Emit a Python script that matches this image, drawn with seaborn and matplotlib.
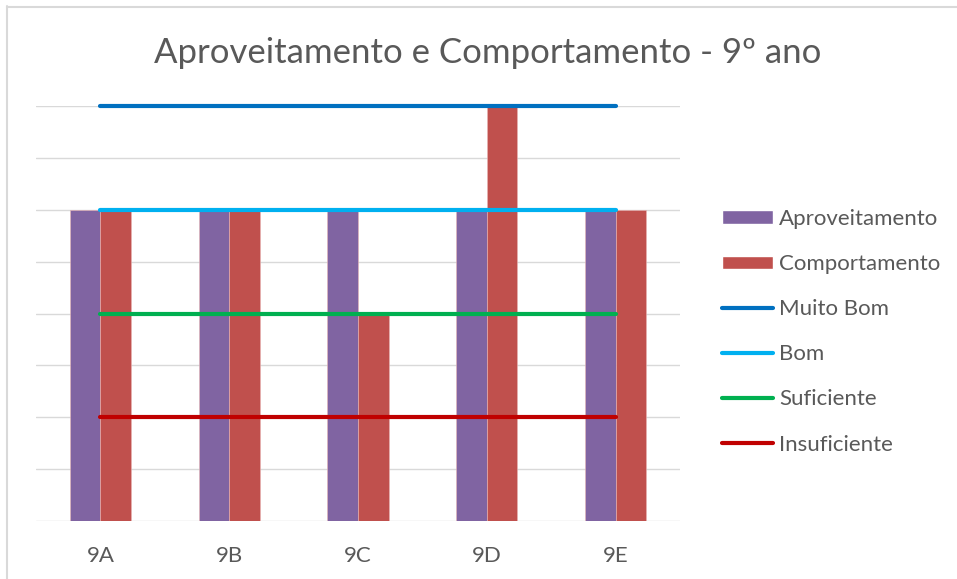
import matplotlib
matplotlib.use("Agg")
import matplotlib.pyplot as plt
from matplotlib.lines import Line2D
from matplotlib.patches import Patch
import numpy as np
import pandas as pd
import seaborn as sns

turmas = ["9A", "9B", "9C", "9D", "9E"]
aproveitamento = [3, 3, 3, 3, 3]
comportamento = [3, 3, 2, 4, 3]
muito_bom = [4, 4, 4, 4, 4]
bom = [3, 3, 3, 3, 3]
suficiente = [2, 2, 2, 2, 2]
insuficiente = [1, 1, 1, 1, 1]

PURPLE = "#8064A2"
RED = "#C0504D"
GREY_TXT = "#595959"
GRID = "#D9D9D9"

sns.set_theme(style="white")
plt.rcParams["font.family"] = ["Lato", "DejaVu Sans"]

fig = plt.figure(figsize=(9.57, 5.79), dpi=100)
ax = fig.add_axes([36 / 957, 58 / 579, 644 / 957, 415 / 579])

df = pd.DataFrame({
    "Turma": turmas * 2,
    "Nota": aproveitamento + comportamento,
    "Serie": ["Aproveitamento"] * len(turmas) + ["Comportamento"] * len(turmas),
})
sns.barplot(data=df, x="Turma", y="Nota", hue="Serie", palette=[PURPLE, RED],
            width=0.475, saturation=1, legend=False, errorbar=None,
            edgecolor="#E8B5B5", linewidth=0.4, ax=ax)

levels = [
    ("Muito Bom", muito_bom, "#0070C0"),
    ("Bom", bom, "#00B0F0"),
    ("Suficiente", suficiente, "#00B050"),
    ("Insuficiente", insuficiente, "#C00000"),
]
for name, vals, color in levels:
    sns.pointplot(x=turmas, y=vals, color=color, marker="", linestyle="-",
                  linewidth=3, solid_capstyle="round", clip_on=False,
                  errorbar=None, ax=ax)

ax.set_ylim(0, 4)
ax.set_yticks(np.arange(0, 4.01, 0.5))
ax.set_yticklabels([])
ax.grid(axis="y", color=GRID, linewidth=1)
ax.set_axisbelow(True)
for s in ax.spines.values():
    s.set_visible(False)
ax.set_xlabel("")
ax.set_ylabel("")
ax.tick_params(axis="both", length=0)
ax.tick_params(axis="x", labelsize=16, labelcolor=GREY_TXT, pad=18)

fig.text(488 / 957, 1 - 53 / 579, "Aproveitamento e Comportamento - 9º ano",
         ha="center", va="center", fontsize=25, color=GREY_TXT)

handles = [Patch(facecolor=PURPLE), Patch(facecolor=RED)]
handles += [Line2D([], [], color=c, linewidth=3, solid_capstyle="round") for _, _, c in levels]
labels = ["Aproveitamento", "Comportamento"] + [n for n, _, _ in levels]
leg = fig.legend(handles, labels, loc="upper left", bbox_to_anchor=(722 / 957, 1 - 209 / 579),
                 frameon=False, fontsize=16, handlelength=2.3, handleheight=0.55,
                 handletextpad=0.27, labelspacing=1.13, borderpad=0, borderaxespad=0)
for t in leg.get_texts():
    t.set_color(GREY_TXT)

fig.add_artist(Line2D([7 / 957, 1], [1 - 6.5 / 579] * 2, transform=fig.transFigure,
                      color=GRID, linewidth=1.5))
fig.add_artist(Line2D([7.5 / 957] * 2, [0, 1 - 6 / 579], transform=fig.transFigure,
                      color=GRID, linewidth=1.5))

fig.savefig("out.png", dpi=100, facecolor="white")
